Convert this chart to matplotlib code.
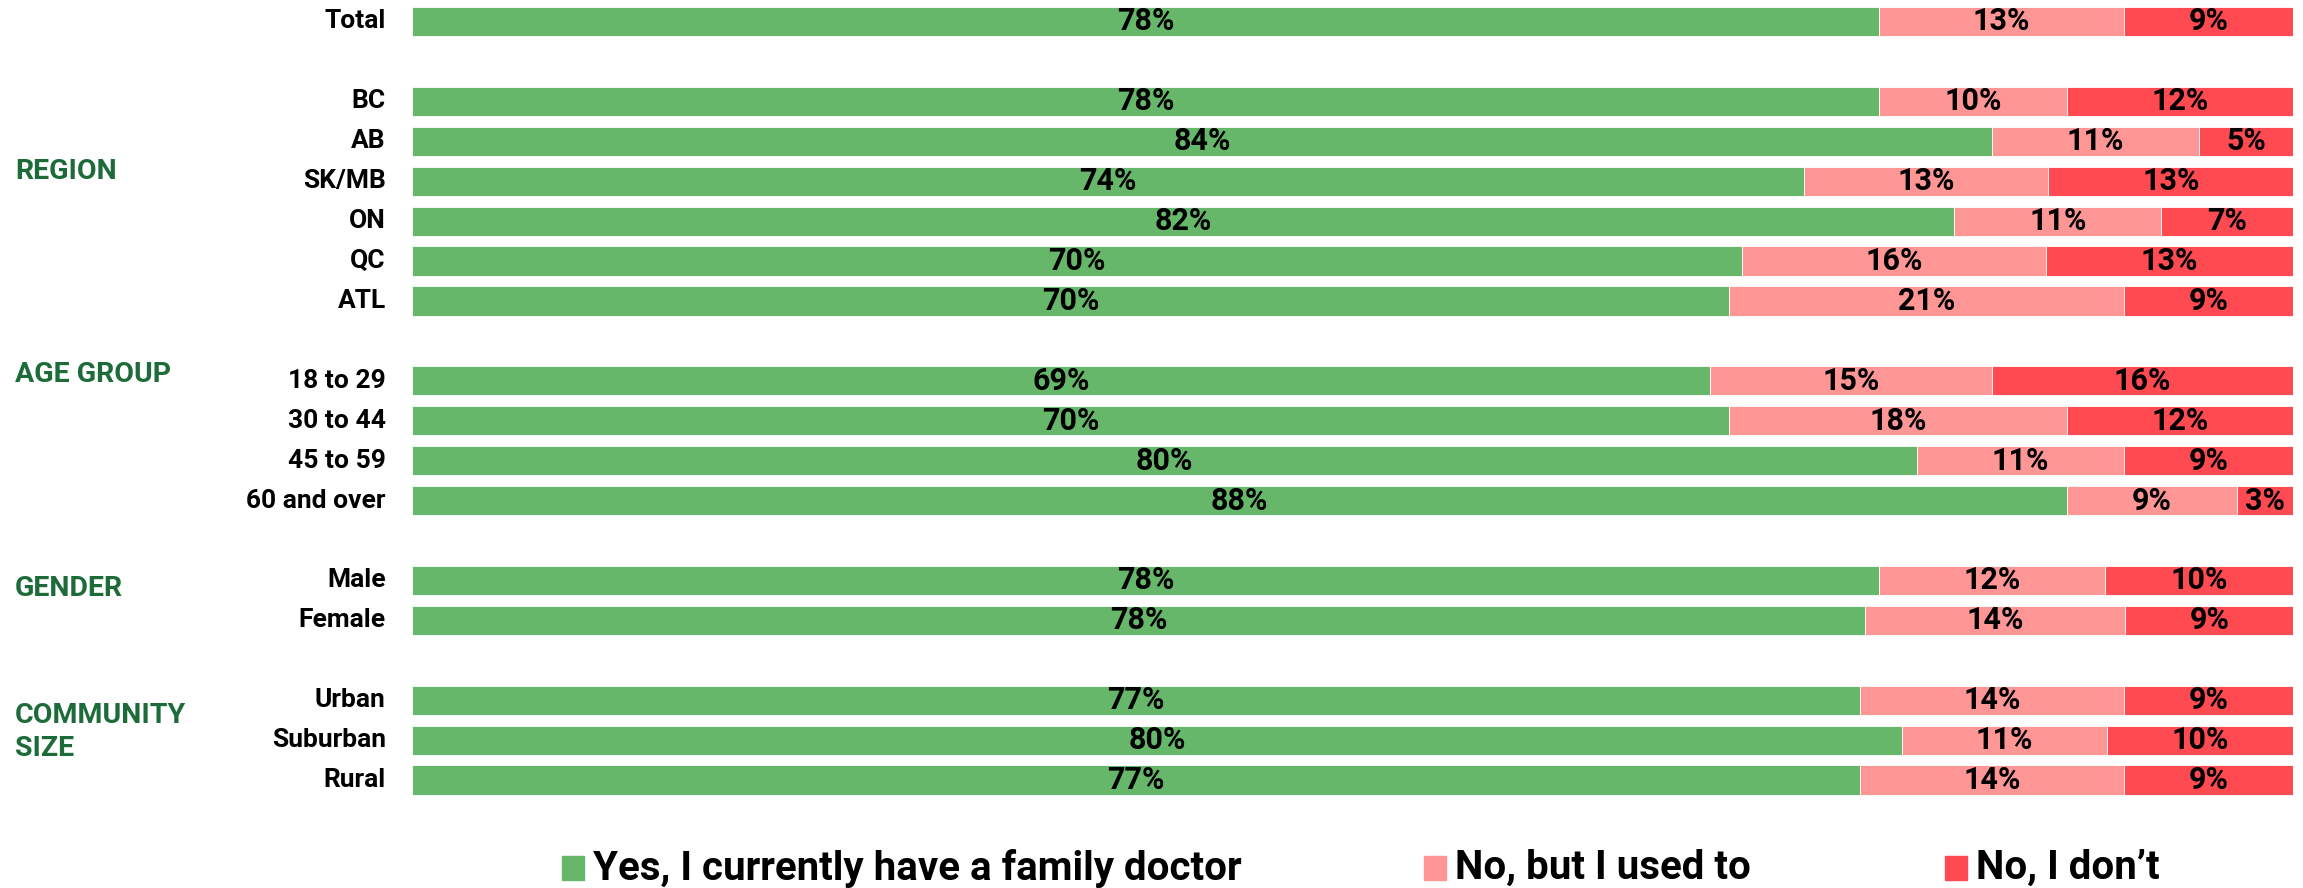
import matplotlib.pyplot as plt
from matplotlib.patches import Rectangle
import numpy as np

plt.rcParams['font.family'] = ['Roboto', 'DejaVu Sans']
plt.rcParams['font.weight'] = 'bold'

# rows of the chart, None = empty spacer row
categories = ['Total', None,
              'BC', 'AB', 'SK/MB', 'ON', 'QC', 'ATL', None,
              '18 to 29', '30 to 44', '45 to 59', '60 and over', None,
              'Male', 'Female', None,
              'Urban', 'Suburban', 'Rural']

have_doctor = [78, None, 78, 84, 74, 82, 70, 70, None, 69, 70, 80, 88, None, 78, 78, None, 77, 80, 77]
used_to = [13, None, 10, 11, 13, 11, 16, 21, None, 15, 18, 11, 9, None, 12, 14, None, 14, 11, 14]
dont = [9, None, 12, 5, 13, 7, 13, 9, None, 16, 12, 9, 3, None, 10, 9, None, 9, 10, 9]

series_names = ['Yes, I currently have a family doctor', 'No, but I used to', 'No, I don\u2019t']
colors = ['#66B76A', '#FF9696', '#FF4A52']

groups = ['REGION', 'AGE GROUP', 'GENDER', 'COMMUNITY\nSIZE']
group_rows = [3.75, 8.85, 14.2, 17.8]
group_color = '#1E6B3A'

fig = plt.figure(figsize=(23.03, 8.88), dpi=100)
ax = fig.add_axes([412 / 2303, 1 - 800 / 888, 1881 / 2303, 798.5 / 888])

for i, cat in enumerate(categories):
    if cat is None:
        continue
    vals = np.array([have_doctor[i], used_to[i], dont[i]], dtype=float)
    shares = vals / vals.sum()
    left = 0.0
    for v, s, c in zip(vals, shares, colors):
        ax.barh(i, s, left=left, height=0.73, color=c, edgecolor='white', linewidth=0.6)
        ax.text(left + s / 2, i, f'{int(v)}%', ha='center', va='center',
                fontsize=22, fontweight='bold', color='black')
        left += s
    ax.text(-0.014, i, cat, ha='right', va='center', fontsize=19,
            fontweight='bold', color='black', transform=ax.get_yaxis_transform())

for g, r in zip(groups, group_rows):
    ax.text(-0.211, r, g, ha='left', va='center', fontsize=20.5, fontweight='bold',
            color=group_color, linespacing=1.3, transform=ax.get_yaxis_transform())

ax.set_xlim(0, 1)
ax.set_ylim(len(categories) - 0.5, -0.5)
ax.axis('off')

# legend at the bottom
legend_x = [562, 1424, 1945]
for x, name, c in zip(legend_x, series_names, colors):
    fig.patches.append(Rectangle((x / 2303, 1 - 880 / 888), 22 / 2303, 24 / 888,
                                 transform=fig.transFigure, color=c))
    fig.text((x + 31) / 2303, 1 - 868 / 888, name, ha='left', va='center',
             fontsize=29, fontweight='bold', color='black')

fig.savefig('out.png', dpi=100)
